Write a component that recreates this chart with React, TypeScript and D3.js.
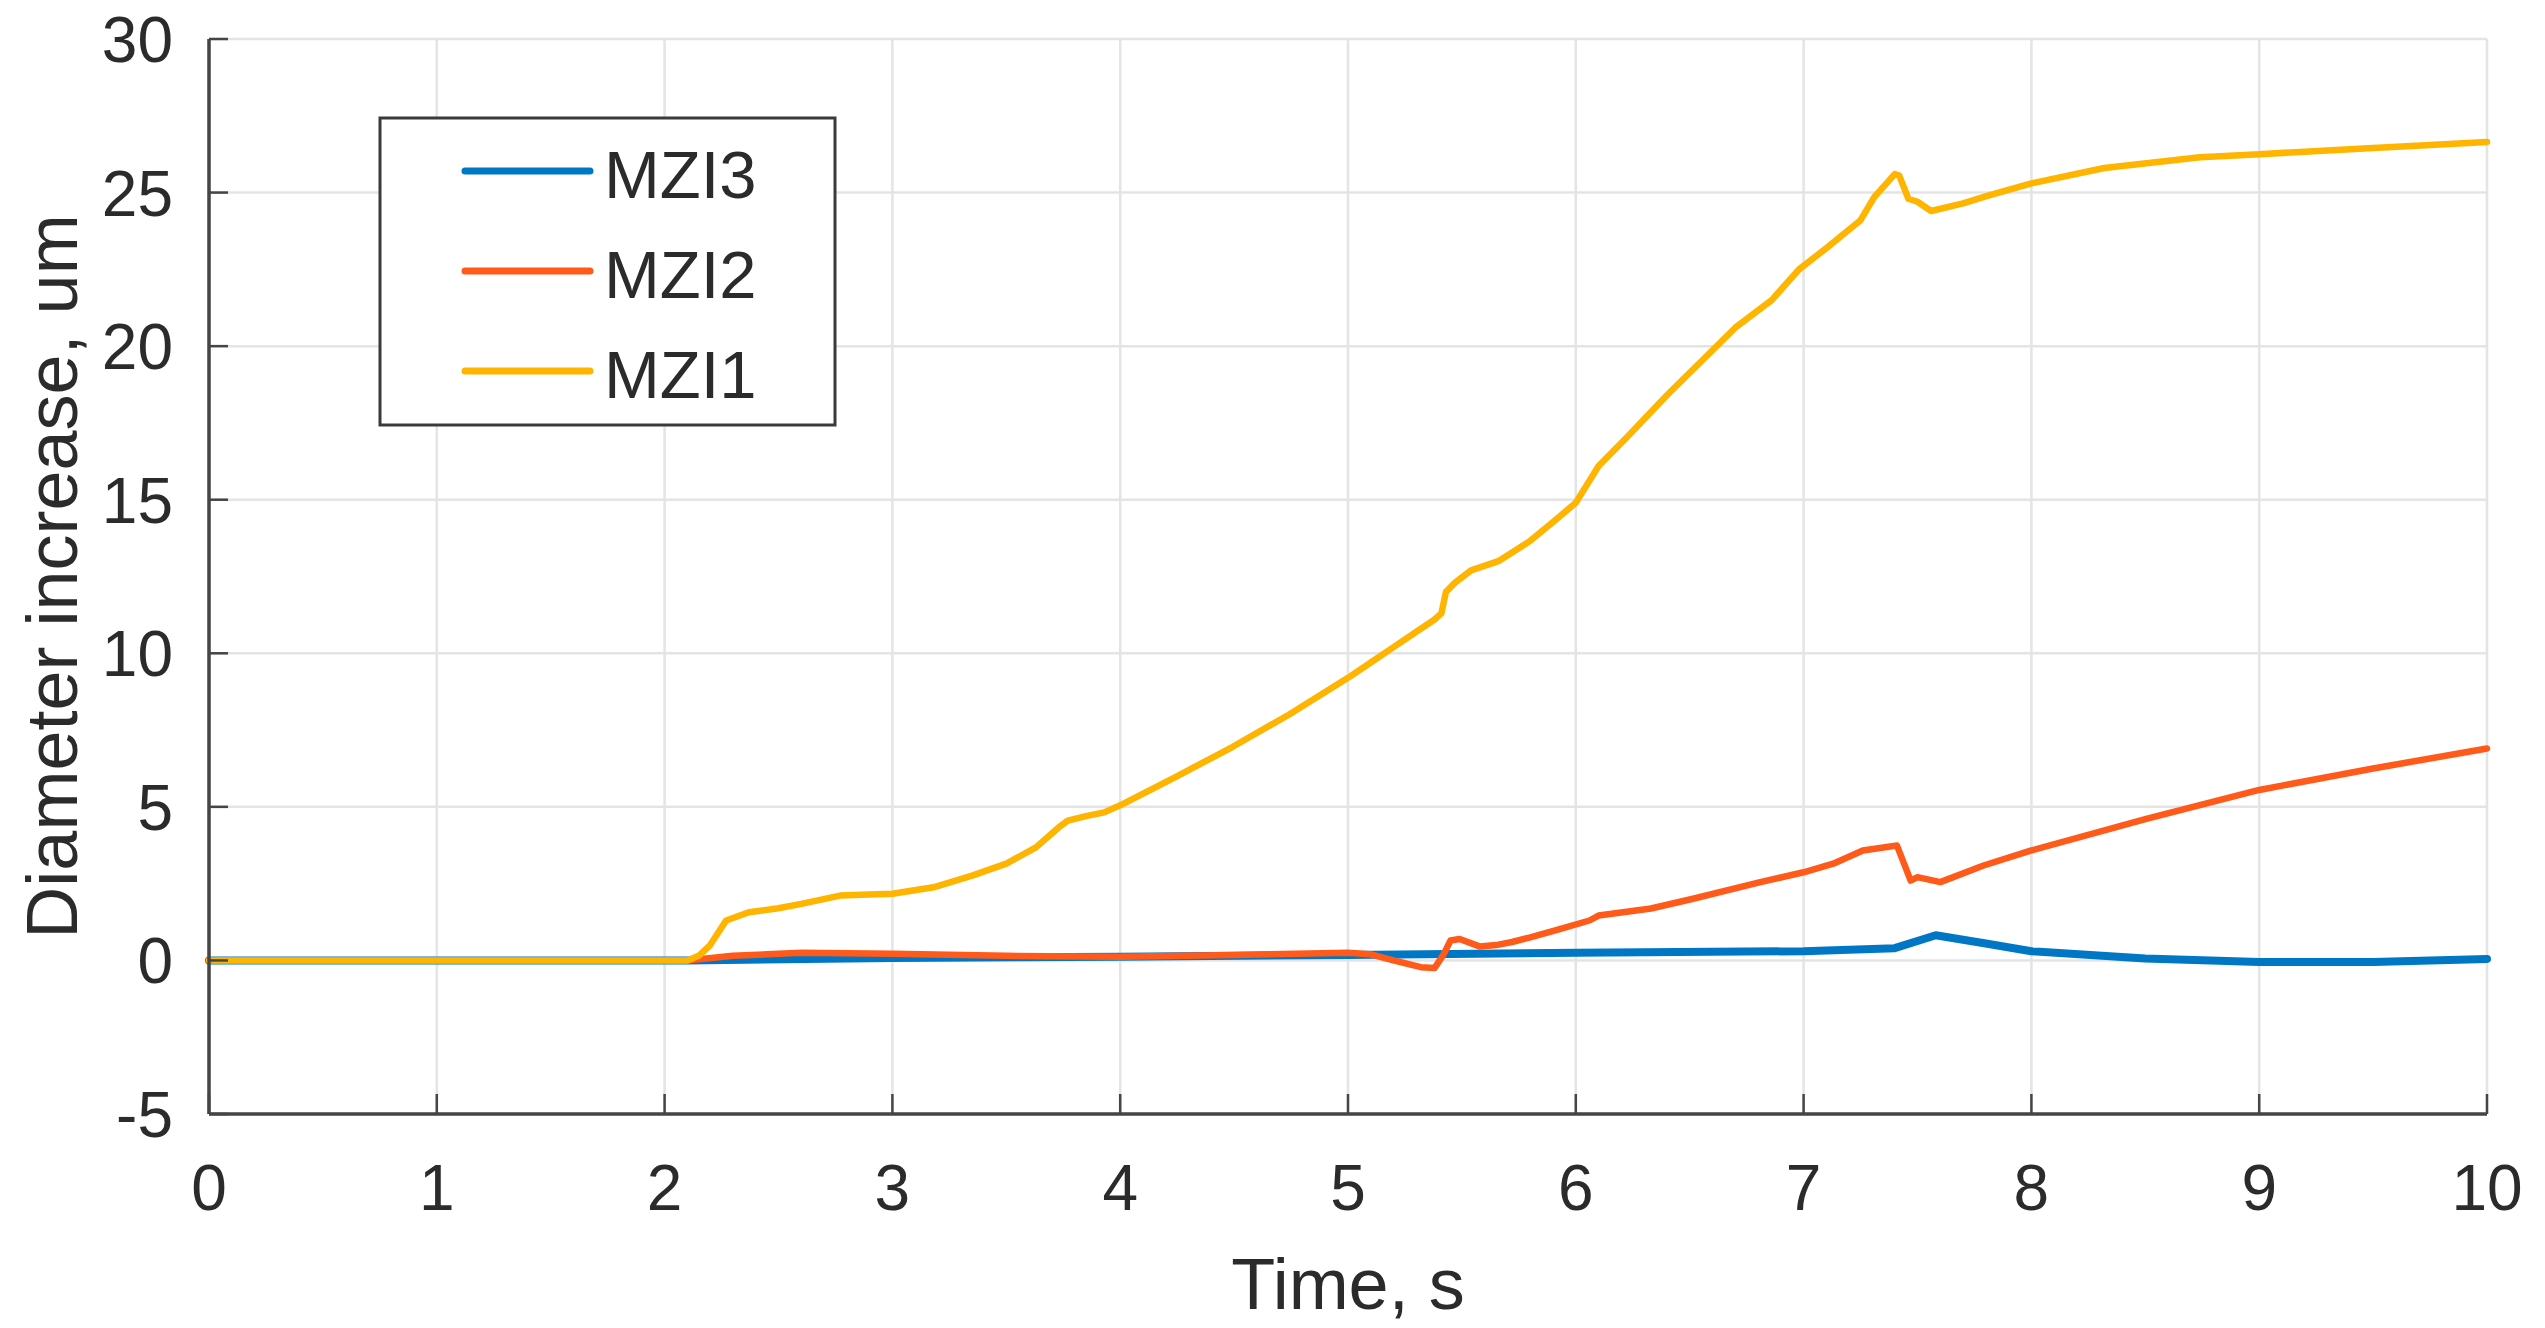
import React from "react";
import * as d3 from "d3";

// MZI3 (blue)
const t3 = [0, 2.1, 3, 4, 5, 6, 7, 7.4, 7.58, 7.8, 8.0, 8.5, 9.0, 9.5, 10];
const v3 = [0, 0, 0.08, 0.12, 0.18, 0.25, 0.3, 0.4, 0.82, 0.55, 0.3, 0.06, -0.05, -0.05, 0.05];

// MZI2 (orange)
const t2 = [0, 2.1, 2.3, 2.6, 3.0, 3.5, 4.0, 4.5, 5.0, 5.1, 5.2, 5.32, 5.38, 5.42, 5.45, 5.49, 5.58, 5.65, 5.72, 5.8, 5.91, 6.06, 6.1, 6.33, 6.51, 6.81, 7.0, 7.13, 7.26, 7.41, 7.47, 7.5, 7.6, 7.79, 8.0, 8.5, 9.0, 9.5, 10];
const v2 = [0, 0, 0.15, 0.25, 0.22, 0.15, 0.12, 0.18, 0.25, 0.2, 0.0, -0.22, -0.25, 0.2, 0.65, 0.7, 0.45, 0.5, 0.6, 0.75, 0.98, 1.3, 1.46, 1.69, 2.0, 2.55, 2.87, 3.15, 3.58, 3.74, 2.6, 2.71, 2.55, 3.09, 3.58, 4.6, 5.55, 6.25, 6.9];

// MZI1 (yellow)
const t1 = [0, 2.1, 2.15, 2.2, 2.27, 2.37, 2.5, 2.6, 2.77, 2.9, 3.0, 3.18, 3.35, 3.5, 3.63, 3.73, 3.77, 3.85, 3.93, 4.0, 4.24, 4.49, 4.74, 5.0, 5.1, 5.2, 5.3, 5.38, 5.41, 5.43, 5.47, 5.54, 5.66, 5.8, 5.92, 6.0, 6.05, 6.1, 6.22, 6.4, 6.55, 6.7, 6.86, 6.98, 7.11, 7.25, 7.31, 7.4, 7.42, 7.46, 7.5, 7.56, 7.7, 7.81, 8.0, 8.32, 8.74, 9.0, 9.5, 10];
const v1 = [0, 0, 0.15, 0.5, 1.3, 1.57, 1.7, 1.84, 2.11, 2.15, 2.17, 2.38, 2.76, 3.15, 3.68, 4.33, 4.55, 4.7, 4.82, 5.05, 5.96, 6.94, 8.0, 9.2, 9.7, 10.2, 10.7, 11.1, 11.3, 12.0, 12.3, 12.7, 13.0, 13.66, 14.4, 14.9, 15.5, 16.1, 17.0, 18.4, 19.5, 20.6, 21.5, 22.5, 23.25, 24.1, 24.85, 25.6, 25.55, 24.8, 24.7, 24.4, 24.65, 24.9, 25.3, 25.8, 26.15, 26.25, 26.45, 26.65];

const seriesNames = ["MZI3", "MZI2", "MZI1"];
const seriesColors = ["#0077c5", "#ff5a1a", "#ffb400"];
const xTicks = [0, 1, 2, 3, 4, 5, 6, 7, 8, 9, 10];
const yTicks = [-5, 0, 5, 10, 15, 20, 25, 30];

const W = 2545;
const H = 1328;
const font = "'Liberation Sans', Arial, Helvetica, sans-serif";

const App = () => {
  var x = d3.scaleLinear().domain([0, 10]).range([209, 2487]);
  var y = d3.scaleLinear().domain([-5, 30]).range([1114, 39]);

  const series = [
    { t: t3, v: v3, w: 8 },
    { t: t2, v: v2, w: 6.5 },
    { t: t1, v: v1, w: 6.5 },
  ];

  var line = d3
    .line<[number, number]>()
    .x((d) => x(d[0]))
    .y((d) => y(d[1]));

  const axisColor = "#454545";
  const textColor = "#2b2b2b";

  return (
    <svg
      width={W}
      height={H}
      style={{ position: "absolute", left: 0, top: 0, background: "#fff" }}
    >
      {/* grid */}
      {xTicks.map((t) => (
        <line key={"gx" + t} x1={x(t)} x2={x(t)} y1={y(30)} y2={y(-5)} stroke="#e4e4e4" strokeWidth={2.5} />
      ))}
      {yTicks.map((t) => (
        <line key={"gy" + t} x1={x(0)} x2={x(10)} y1={y(t)} y2={y(t)} stroke="#e4e4e4" strokeWidth={2.5} />
      ))}

      {/* data lines, MZI3 first so MZI1 ends up on top */}
      {series.map((s, i) => (
        <path
          key={"s" + i}
          d={line(s.t.map((t, j) => [t, s.v[j]]) as [number, number][]) || ""}
          fill="none"
          stroke={seriesColors[i]}
          strokeWidth={s.w}
          strokeLinejoin="round"
          strokeLinecap="round"
        />
      ))}

      {/* axes */}
      <line x1={x(0)} x2={x(0)} y1={y(30)} y2={y(-5)} stroke={axisColor} strokeWidth={3.5} />
      <line x1={x(0)} x2={x(10)} y1={y(-5)} y2={y(-5)} stroke={axisColor} strokeWidth={3.5} />
      {xTicks.map((t) => (
        <line key={"tx" + t} x1={x(t)} x2={x(t)} y1={y(-5)} y2={y(-5) - 20} stroke={axisColor} strokeWidth={2.5} />
      ))}
      {yTicks.map((t) => (
        <line key={"ty" + t} x1={x(0)} x2={x(0) + 19} y1={y(t)} y2={y(t)} stroke={axisColor} strokeWidth={2.5} />
      ))}

      {/* tick labels */}
      {xTicks.map((t) => (
        <text key={"lx" + t} x={x(t)} y={1210} textAnchor="middle" fontFamily={font} fontSize={64} fill={textColor}>
          {t}
        </text>
      ))}
      {yTicks.map((t) => (
        <text key={"ly" + t} x={173} y={y(t) + 23} textAnchor="end" fontFamily={font} fontSize={64} fill={textColor}>
          {t}
        </text>
      ))}

      {/* axis labels */}
      <text x={(x(0) + x(10)) / 2} y={1309} textAnchor="middle" fontFamily={font} fontSize={72} fill={textColor}>
        Time, s
      </text>
      <text
        transform={`translate(77, ${(y(30) + y(-5)) / 2}) rotate(-90)`}
        textAnchor="middle"
        fontFamily={font}
        fontSize={72}
        fill={textColor}
      >
        Diameter increase, um
      </text>

      {/* legend */}
      <rect x={380} y={118} width={455} height={307} fill="#fff" stroke="#3a3a3a" strokeWidth={3} />
      {seriesNames.map((n, i) => (
        <g key={"lg" + n}>
          <line x1={465} x2={590} y1={171 + i * 100} y2={171 + i * 100} stroke={seriesColors[i]} strokeWidth={7} strokeLinecap="round" />
          <text x={604} y={171 + i * 100 + 27} fontFamily={font} fontSize={67} fill={textColor}>
            {n}
          </text>
        </g>
      ))}
    </svg>
  );
};

export default App;
